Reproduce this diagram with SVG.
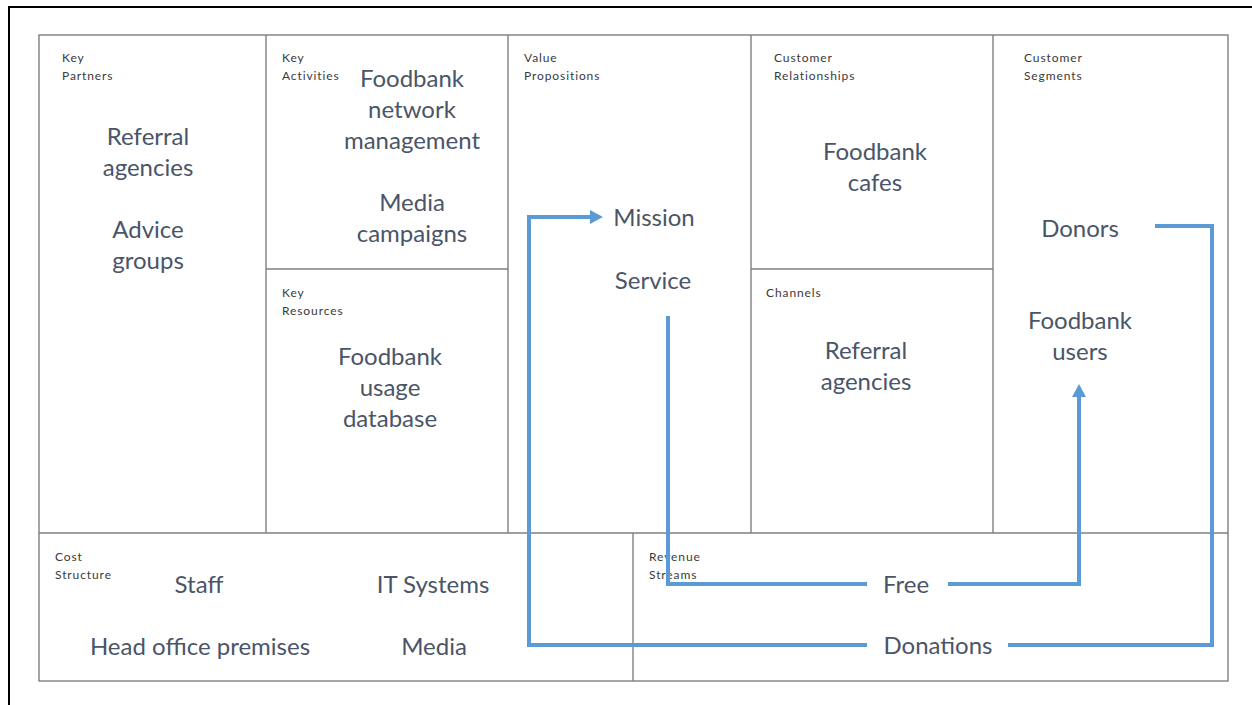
<svg xmlns="http://www.w3.org/2000/svg" width="1252" height="705" viewBox="0 0 1252 705">
<defs>
<style>
.grid{fill:none;stroke:#7f7f7f;stroke-width:1.4}
.lbl{font-family:Lato,"Liberation Sans",sans-serif;font-size:12px;letter-spacing:0.9px;fill:#3a3a3a}
.t{font-family:Lato,"Liberation Sans",sans-serif;font-size:24px;fill:#4a5568;text-anchor:middle}
.c{fill:none;stroke:#5b9bd5;stroke-width:4;stroke-linejoin:miter}
</style>
<marker id="ah" viewBox="0 0 13 14" refX="0" refY="7" markerWidth="13" markerHeight="14" markerUnits="userSpaceOnUse" orient="auto">
<path d="M0,0 L13,7 L0,14 z" fill="#5b9bd5"/>
</marker>
</defs>
<rect x="0" y="0" width="1252" height="705" fill="#ffffff"/>
<rect x="9" y="7" width="1260" height="720" fill="none" stroke="#000000" stroke-width="2"/>

<g id="grid">
<rect class="grid" x="39" y="35" width="1189" height="646"/>
<line class="grid" x1="39" y1="533" x2="1228" y2="533"/>
<line class="grid" x1="266" y1="35" x2="266" y2="533"/>
<line class="grid" x1="508" y1="35" x2="508" y2="533"/>
<line class="grid" x1="751" y1="35" x2="751" y2="533"/>
<line class="grid" x1="993" y1="35" x2="993" y2="533"/>
<line class="grid" x1="266" y1="269" x2="508" y2="269"/>
<line class="grid" x1="751" y1="269" x2="993" y2="269"/>
<line class="grid" x1="633" y1="533" x2="633" y2="681"/>
</g>

<g id="key-partners">
<text class="lbl" x="62" y="62">Key</text>
<text class="lbl" x="62" y="80">Partners</text>
<text class="t" x="148" y="145">Referral</text>
<text class="t" x="148" y="176">agencies</text>
<text class="t" x="148" y="238">Advice</text>
<text class="t" x="148" y="269">groups</text>
</g>

<g id="key-activities">
<text class="lbl" x="282" y="62">Key</text>
<text class="lbl" x="282" y="80">Activities</text>
<text class="t" x="412" y="87">Foodbank</text>
<text class="t" x="412" y="118">network</text>
<text class="t" x="412" y="149">management</text>
<text class="t" x="412" y="211">Media</text>
<text class="t" x="412" y="242">campaigns</text>
</g>

<g id="key-resources">
<text class="lbl" x="282" y="297">Key</text>
<text class="lbl" x="282" y="315">Resources</text>
<text class="t" x="390" y="365">Foodbank</text>
<text class="t" x="390" y="396">usage</text>
<text class="t" x="390" y="427">database</text>
</g>

<g id="value-propositions">
<text class="lbl" x="524" y="62">Value</text>
<text class="lbl" x="524" y="80">Propositions</text>
<text class="t" x="654" y="226">Mission</text>
<text class="t" x="653" y="289">Service</text>
</g>

<g id="customer-relationships">
<text class="lbl" x="774" y="62">Customer</text>
<text class="lbl" x="774" y="80">Relationships</text>
<text class="t" x="875" y="160">Foodbank</text>
<text class="t" x="875" y="191">cafes</text>
</g>

<g id="channels">
<text class="lbl" x="766" y="297">Channels</text>
<text class="t" x="866" y="359">Referral</text>
<text class="t" x="866" y="390">agencies</text>
</g>

<g id="customer-segments">
<text class="lbl" x="1024" y="62">Customer</text>
<text class="lbl" x="1024" y="80">Segments</text>
<text class="t" x="1080" y="237">Donors</text>
<text class="t" x="1080" y="329">Foodbank</text>
<text class="t" x="1080" y="360">users</text>
</g>

<g id="cost-structure">
<text class="lbl" x="55" y="561">Cost</text>
<text class="lbl" x="55" y="579">Structure</text>
<text class="t" x="199" y="593">Staff</text>
<text class="t" x="433" y="593">IT Systems</text>
<text class="t" x="200" y="655">Head office premises</text>
<text class="t" x="434" y="655">Media</text>
</g>

<g id="revenue-streams">
<text class="lbl" x="649" y="561">Revenue</text>
<text class="lbl" x="649" y="579">Streams</text>
<text class="t" x="906" y="593">Free</text>
<text class="t" x="938" y="654">Donations</text>
</g>

<g id="connectors">
<path class="c" d="M1155,226 H1212 V645 H1008"/>
<path class="c" d="M867,645 H529 V217 H590" marker-end="url(#ah)"/>
<path class="c" d="M668,316 V584 H867"/>
<path class="c" d="M948,584 H1079 V397" marker-end="url(#ah)"/>
</g>
</svg>
